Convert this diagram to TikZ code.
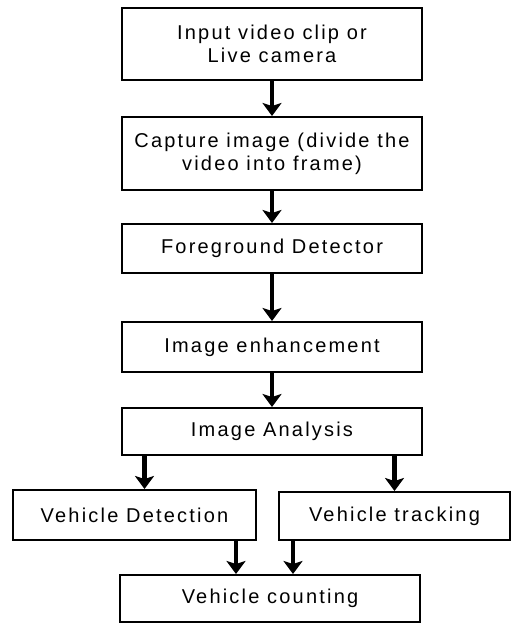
\documentclass[tikz,border=0pt]{standalone}
\usepackage{fontspec}
\setmainfont{Liberation Sans}
\newfontfamily\boxfont[LetterSpace=11]{Liberation Sans}
\usetikzlibrary{arrows.meta,calc}

\begin{document}
\begin{tikzpicture}[x=1pt, y=1pt, every node/.style={align=center,font={\boxfont\fontsize{20}{23}\selectfont}}, stage/.style={rectangle,draw=black,line width=2pt,inner sep=0pt,minimum width=300pt}, flow/.style={-{Stealth[length=13pt,width=19pt,inset=3pt]},line width=4.5pt,black}]
  \useasboundingbox (0,0) rectangle (511,-623);
  \node[stage,minimum height=72pt] (in) at (272,-44) {Input video clip or\\Live camera};
  \node[stage,minimum height=73pt] (cap) at (272,-153.5) {Capture image (divide the\\video into frame)};
  \node[stage,minimum height=49pt] (fg) at (272,-248.5) {Foreground Detector};
  \node[stage,minimum height=50pt] (enh) at (272,-347) {Image enhancement};
  \node[stage,minimum height=47pt] (ana) at (272,-431.5) {Image Analysis};
  \node[stage,minimum width=243pt,minimum height=50pt] (det) at (134.5,-515) {Vehicle Detection};
  \node[stage,minimum width=231pt,minimum height=48pt] (trk) at (394.5,-516) {Vehicle tracking};
  \node[stage,minimum height=47pt] (cnt) at (270,-598.5) {Vehicle counting};
  \draw[flow] (in)--(cap); \draw[flow] (cap)--(fg); \draw[flow] (fg)--(enh); \draw[flow] (enh)--(ana);
  \draw[flow] ([xshift=10pt]det.north |- ana.south)--([xshift=10pt]det.north); \draw[flow] (trk.north |- ana.south)--(trk.north);
  \draw[flow] ([xshift=-34pt]cnt.north |- det.south)--([xshift=-34pt]cnt.north); \draw[flow] ([xshift=23pt]cnt.north |- trk.south)--([xshift=23pt]cnt.north);
\end{tikzpicture}
\end{document}
